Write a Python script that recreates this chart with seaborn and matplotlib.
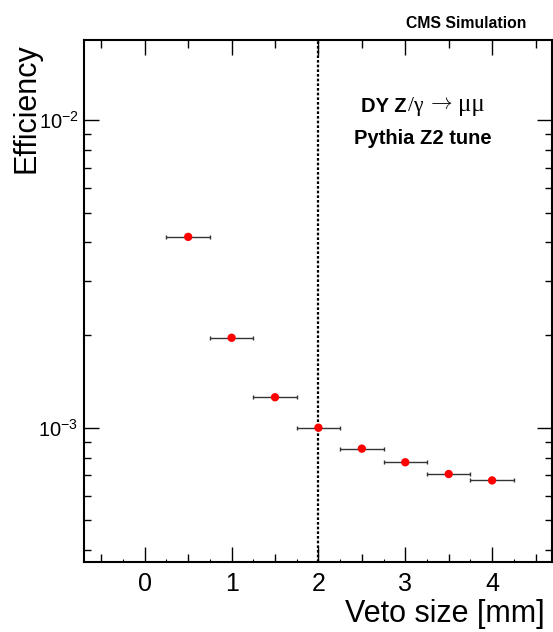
import matplotlib
matplotlib.use('Agg')
import matplotlib.pyplot as plt
from matplotlib import ticker
import numpy as np
import pandas as pd
import seaborn as sns

# values
veto_size = [0.5, 1.0, 1.5, 2.0, 2.5, 3.0, 3.5, 4.0]
efficiency = [4.17e-3, 1.96e-3, 1.256e-3, 1.0e-3, 8.55e-4, 7.72e-4, 7.07e-4, 6.74e-4]
bin_half_width = [0.25] * 8
chosen_veto = 2.0

df = pd.DataFrame({'veto': veto_size, 'eff': efficiency, 'xerr': bin_half_width})

sns.set_style('ticks')
plt.rcParams['font.family'] = ['Liberation Sans', 'DejaVu Sans']
plt.rcParams['mathtext.fontset'] = 'custom'
plt.rcParams['mathtext.rm'] = 'Liberation Sans'
plt.rcParams['mathtext.it'] = 'Liberation Sans:italic'
plt.rcParams['mathtext.bf'] = 'Liberation Sans:bold'
for key in ['text.color', 'axes.labelcolor', 'xtick.color', 'ytick.color', 'axes.edgecolor']:
    plt.rcParams[key] = 'black'

fig = plt.figure(figsize=(5.53, 6.32), dpi=100)
ax = fig.add_axes([84 / 553, 1 - 562 / 632, (552 - 84) / 553, (562 - 40) / 632])

ax.errorbar(df['veto'], df['eff'], xerr=df['xerr'], fmt='none',
            ecolor='#333333', elinewidth=1.0, capsize=1.6, capthick=1.0, zorder=2)
sns.scatterplot(data=df, x='veto', y='eff', ax=ax, color='red', s=36,
                edgecolor='none', zorder=3, legend=False)

ax.axvline(chosen_veto, color='black', lw=1.6, ls=(0, (1.2, 0.9)), zorder=1)

ax.set_yscale('log')
ax.set_xlim(-0.7, 4.69)
ax.set_ylim(3.66e-4, 1.82e-2)

ax.xaxis.set_major_locator(ticker.MultipleLocator(1))
ax.xaxis.set_minor_locator(ticker.MultipleLocator(0.5))
ax.yaxis.set_major_locator(ticker.LogLocator(base=10))
ax.yaxis.set_minor_locator(ticker.LogLocator(base=10, subs=np.arange(2, 10)))
ax.yaxis.set_minor_formatter(ticker.NullFormatter())
ax.yaxis.set_major_formatter(
    ticker.FuncFormatter(lambda v, p: r'10$^{%d}$' % round(np.log10(v))))

ax.tick_params(axis='both', which='both', direction='in', top=True, right=True,
               color='black', width=1.0)
ax.tick_params(axis='x', which='major', length=11, labelsize=18, pad=7)
ax.tick_params(axis='x', which='minor', length=5.5)
ax.tick_params(axis='y', which='major', length=10.5, labelsize=14.5, pad=4)
ax.tick_params(axis='y', which='minor', length=5)

# tiny quarter ticks along the bottom, as in the ROOT style
quarter = ax.secondary_xaxis('bottom')
quarter.set_xticks([-0.25, 0.25, 0.75, 1.25, 1.75, 2.25, 2.75, 3.25, 3.75, 4.25])
quarter.tick_params(direction='in', length=2, width=0.8, labelbottom=False)
quarter.spines['bottom'].set_visible(False)

for side in ax.spines.values():
    side.set_linewidth(1.5)
    side.set_color('black')

ax.set_xlabel('')
ax.set_ylabel('')
fig.text(26 / 553, 1 - 43 / 632, 'Efficiency', rotation=90, ha='center', va='top',
         fontsize=22)
fig.text(545 / 553, 1 - 622 / 632, 'Veto size [mm]', ha='right', va='baseline',
         fontsize=22)

fig.text(526 / 553, 1 - 28 / 632, 'CMS Simulation', ha='right', va='baseline',
         fontsize=11.3, fontweight='bold')

# process label: bold "DY Z", then symbol-font pieces chained after it
serif = ['Liberation Serif', 'DejaVu Serif']
t1 = ax.text(0.690, 0.872, 'DY Z', transform=ax.transAxes, ha='right', va='center',
             fontsize=14.5, fontweight='bold')
t2 = ax.annotate('/γ', xy=(1, 0), xycoords=t1, xytext=(0.5, 0),
                 textcoords='offset points', ha='left', va='bottom',
                 fontsize=15.5, family=serif)
t3 = ax.annotate(r'$\rightarrow$', xy=(1, 0), xycoords=t2, xytext=(3, 1.5),
                 textcoords='offset points', ha='left', va='bottom',
                 fontsize=15.5, math_fontfamily='cm')
ax.annotate('μμ', xy=(1, 0), xycoords=t3, xytext=(3.5, -1.5),
            textcoords='offset points', ha='left', va='bottom',
            fontsize=18, family=serif)
ax.text(0.724, 0.812, 'Pythia Z2 tune', transform=ax.transAxes, ha='center',
        va='center', fontsize=14.5, fontweight='bold')

fig.savefig('out.png', dpi=100)
plt.close(fig)
